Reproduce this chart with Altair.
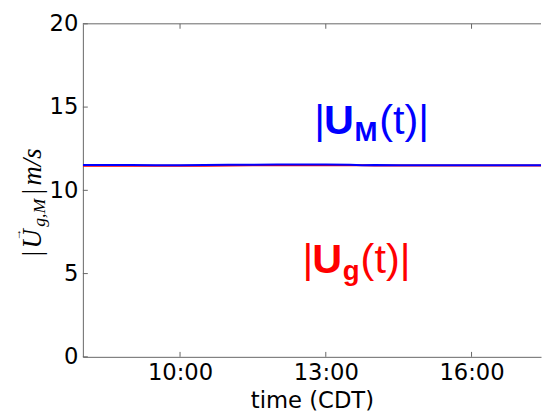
import altair as alt
import pandas as pd

# ---- data ----
hours = [8.0, 8.5, 9.0, 9.5, 10.0, 10.5, 11.0, 11.5, 12.0, 12.5, 13.0, 13.5, 13.75,
         14.0, 14.5, 15.0, 15.5, 16.0, 16.5, 17.0, 17.5]
u_g = [11.48, 11.48, 11.48, 11.48, 11.48, 11.48, 11.49, 11.50, 11.50, 11.50, 11.50, 11.50, 11.50,
       11.49, 11.49, 11.49, 11.49, 11.49, 11.49, 11.49, 11.49]
u_m = [11.52, 11.52, 11.52, 11.51, 11.51, 11.52, 11.53, 11.54, 11.55, 11.55, 11.55, 11.54, 11.51,
       11.52, 11.50, 11.51, 11.50, 11.51, 11.50, 11.51, 11.50]
x_ticks = [10, 13, 16]
y_ticks = [0, 5, 10, 15, 20]
x_domain = [8.0, 17.43]
y_domain = [0, 20]

W, H = 465, 338
FONT = "DejaVu Sans"

df = pd.DataFrame({"t": hours, "ug": u_g, "um": u_m})

xs = alt.Scale(domain=x_domain, nice=False, zero=False)
ys = alt.Scale(domain=y_domain, nice=False, zero=False)

base = alt.Chart(df)

red_line = base.mark_line(color="#ff0000", strokeWidth=2, clip=True).encode(
    x=alt.X("t:Q", scale=xs, axis=alt.Axis(
        title="time (CDT)", values=x_ticks, ticks=False, grid=False,
        labelExpr="datum.value + ':00'", labelFont=FONT, labelFontSize=23,
        labelColor="black", labelPadding=5, labelFlush=False,
        titleFont=FONT, titleFontSize=23, titleFontWeight="normal",
        titleColor="black", titlePadding=5, domainColor="#666")),
    y=alt.Y("ug:Q", scale=ys, axis=alt.Axis(
        title=None, values=y_ticks, ticks=False, grid=False,
        labelFont=FONT, labelFontSize=23, labelColor="black", labelPadding=5,
        labelFlush=False, domainColor="#666")),
)
blue_line = base.mark_line(color="#0000ff", strokeWidth=2, clip=True).encode(
    x=alt.X("t:Q", scale=xs), y=alt.Y("um:Q", scale=ys))

# top spine
top_spine = alt.Chart(pd.DataFrame({"a": [0]})).mark_rule(color="#666", strokeWidth=1).encode(
    x=alt.value(0), x2=alt.value(W), y=alt.value(0))

# inward ticks
xt = alt.Chart(pd.DataFrame({"t": x_ticks}))
xtick_bottom = xt.mark_rule(color="#666").encode(
    x=alt.X("t:Q", scale=xs), y=alt.value(H), y2=alt.value(H - 5))
xtick_top = xt.mark_rule(color="#666").encode(
    x=alt.X("t:Q", scale=xs), y=alt.value(0), y2=alt.value(5))
yt = alt.Chart(pd.DataFrame({"v": y_ticks}))
ytick_left = yt.mark_rule(color="#666").encode(
    y=alt.Y("v:Q", scale=ys), x=alt.value(0), x2=alt.value(5))

# big annotations
def piece(x, y, text, color, dx=0, dy=0, size=42, weight="normal", font="Liberation Sans"):
    return alt.Chart(pd.DataFrame({"x": [x], "y": [y], "s": [text]})).mark_text(
        align="left", baseline="alphabetic", dx=dx, dy=dy, fontSize=size,
        fontWeight=weight, font=font, color=color).encode(
        x=alt.X("x:Q", scale=xs), y=alt.Y("y:Q", scale=ys), text="s:N")

bx, by = 12.76, 13.4
rx, ry = 12.52, 5.05
ann = [
    piece(bx, by, "|", "#0000ff", dx=0),
    piece(bx, by, "U", "#0000ff", dx=10, weight="bold"),
    piece(bx, by, "M", "#0000ff", dx=41, dy=7, size=28, weight="bold"),
    piece(bx, by, "(t)|", "#0000ff", dx=66),
    piece(rx, ry, "|", "#ff0000", dx=0),
    piece(rx, ry, "U", "#ff0000", dx=10, weight="bold"),
    piece(rx, ry, "g", "#ff0000", dx=41, dy=7, size=28, weight="bold"),
    piece(rx, ry, "(t)|", "#ff0000", dx=59),
]

# y-axis label pieces (rotated)
def ylab(text, dx, dy=0, size=27, style="italic", font="Liberation Serif"):
    return alt.Chart(pd.DataFrame({"s": [text]})).mark_text(
        align="left", baseline="alphabetic", angle=270, dx=dx, dy=dy, fontSize=size,
        fontStyle=style, font=font, color="black").encode(
        x=alt.value(-43), y=alt.value(236), text="s:N")

ylabel = [
    ylab("|", 0, style="normal"),
    ylab("U", 8),
    ylab("\u2192", 16, dy=-20, size=12, style="normal"),
    ylab("g,M", 30, dy=5, size=18),
    ylab("|", 63, style="normal"),
    ylab("m/s", 72),
]

chart = alt.layer(red_line, blue_line, top_spine, xtick_bottom, xtick_top, ytick_left,
                  *ann, *ylabel).properties(
    width=W, height=H,
    autosize=alt.AutoSizeParams(type="none"),
    padding={"left": 76, "top": 13, "right": 1, "bottom": 58},
).configure_view(stroke=None)

chart.save("out.html", embed_options={"renderer": "svg", "actions": False})
